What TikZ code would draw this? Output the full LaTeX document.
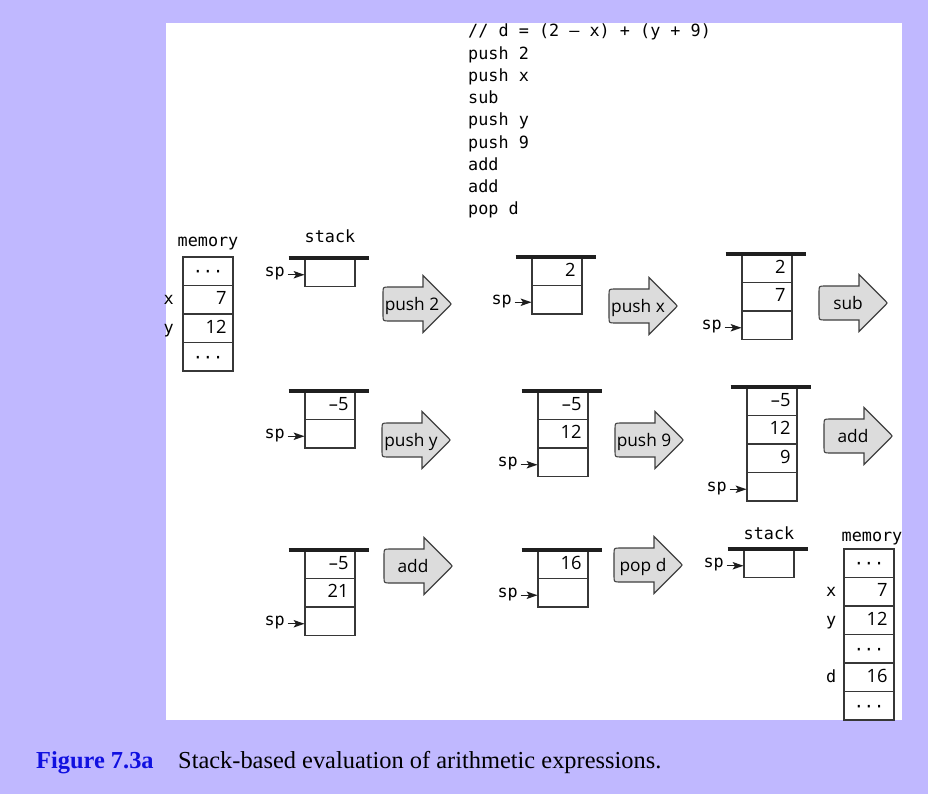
\documentclass[tikz,border=0pt]{standalone}
\usepackage{fontspec}
\usetikzlibrary{calc}
\newfontfamily\monof{DejaVu Sans Mono}
\newfontfamily\opensf{Open Sans}
\newfontfamily\capf{Liberation Serif}
\definecolor{bgc}{RGB}{192,184,255}
\definecolor{linec}{RGB}{55,55,55}
\definecolor{arrfill}{RGB}{220,220,220}
\definecolor{capblue}{RGB}{16,16,224}
\definecolor{ptrc}{RGB}{30,30,30}
\tikzset{
 cell/.style={draw=linec, line width=1.1pt, minimum width=50pt, minimum height=28.5pt,
   outer sep=0pt, inner xsep=6.5pt, inner ysep=0pt, text width=37pt, align=right,
   text height=13.2pt, text depth=3.2pt, font=\opensf\fontsize{18.3}{20}\selectfont},
 dotcell/.style={cell, align=center, text height=13.4pt, text depth=0pt,
   font=\monof\fontsize{16.8}{20}\selectfont},
 mono/.style={font=\monof\fontsize{16.8}{20}\selectfont, inner sep=0pt},
 splab/.style={mono, inner sep=1pt},
 ptrline/.style={draw=ptrc, line width=1.1pt},
 ptrhead/.style={fill=ptrc},
 bar/.style={line width=3.5pt, draw=black!88},
 oparrow/.style={draw=black!75, line width=1.1pt, fill=arrfill, line join=miter},
 oplab/.style={font=\opensf\fontsize{17.3}{20}\selectfont, inner sep=0pt},
 caption/.style={anchor=base west, inner sep=0pt},
}
\newcommand{\spto}[2]{%
  \node[splab, anchor=mid east] (#1) at ($(#2.west)+(-19,2.5)$) {sp};
  \coordinate (#1t) at ($(#1.mid east -| #2.west)+(-0.5,0)$);
  \draw[ptrline] ($(#1.mid east)+(1.5,0)$) -- ($(#1t)+(-6,0)$);
  \fill[ptrhead] (#1t) -- ($(#1t)+(-11,-3.8)$) -- ($(#1t)+(-8.5,0)$) -- ($(#1t)+(-11,3.8)$) -- cycle;}
\newcommand{\stackbar}[1]{%
  \draw[bar] ($(#1.north west)+(-16.5,0)$) -- ($(#1.north east)+(13.5,0)$);}
\newcommand{\oparr}[4]{%
  \draw[oparrow] ({#2+40},{#3-17}) -- ({#2+40},{#3-28.5}) -- ({#2+66.6},{#3-1.9})
    .. controls ({#2+68.5},{#3}) .. ({#2+66.6},{#3+1.9}) -- ({#2+40},{#3+28.5})
    -- ({#2+40},{#3+17}) -- ({#2+6},{#3+17}) .. controls ({#2},{#3+17}) .. ({#2},{#3+11})
    -- ({#2},{#3-11}) .. controls ({#2},{#3-17}) .. ({#2+6},{#3-17}) -- cycle;
  \node[oplab, anchor=base] (#1) at ({#2+29},{#3+6}) {#4};}
\begin{document}
\begin{tikzpicture}[x=1pt,y=-1pt]
\fill[bgc] (0,0) rectangle (928,794);
\useasboundingbox (0,0) rectangle (928,794);
\fill[white] (166,23) rectangle (902,720);

% code
\foreach \t [count=\i] in {{// d = (2 – x) + (y + 9)},{push 2},{push x},{sub},{push y},{push 9},{add},{add},{pop d}}
  \node[mono, anchor=base west] (code\i) at (468,{37+(\i-1)*22.25}) {\t};

% memory (initial)
\node[mono, anchor=base] (meml1) at (208,246.5) {memory};
\node[dotcell, anchor=north west] (m1a) at (183,257) {···};
\node[cell, anchor=north] (m1b) at (m1a.south) {7};
\node[cell, anchor=north] (m1c) at (m1b.south) {12};
\node[dotcell, anchor=north] (m1d) at (m1c.south) {···};
\node[mono, anchor=base east] (m1x) at ($(m1b.west)+(-9,5)$) {x};
\node[mono, anchor=base east] (m1y) at ($(m1c.west)+(-9,5)$) {y};

% row 1
\node[mono, anchor=base] (stl1) at (330,243) {stack};
\node[cell, anchor=north west] (s1a) at (305,258) {};
\stackbar{s1a}
\spto{p1}{s1a}
\oparr{a1}{383}{304}{push 2}

\node[cell, anchor=north west] (s2a) at (532,257) {2};
\node[cell, anchor=north] (s2b) at (s2a.south) {};
\stackbar{s2a}
\spto{p2}{s2b}
\oparr{a2}{609}{306}{push x}

\node[cell, anchor=north west] (s3a) at (742,254) {2};
\node[cell, anchor=north] (s3b) at (s3a.south) {7};
\node[cell, anchor=north] (s3c) at (s3b.south) {};
\stackbar{s3a}
\spto{p3}{s3c}
\oparr{a3}{819}{303}{sub}

% row 2
\node[cell, anchor=north west] (s4a) at (305,391) {–5};
\node[cell, anchor=north] (s4b) at (s4a.south) {};
\stackbar{s4a}
\spto{p4}{s4b}
\oparr{a4}{382}{440}{push y}

\node[cell, anchor=north west] (s5a) at (538,391) {–5};
\node[cell, anchor=north] (s5b) at (s5a.south) {12};
\node[cell, anchor=north] (s5c) at (s5b.south) {};
\stackbar{s5a}
\spto{p5}{s5c}
\oparr{a5}{615}{440}{push 9}

\node[cell, anchor=north west] (s6a) at (747,387) {–5};
\node[cell, anchor=north] (s6b) at (s6a.south) {12};
\node[cell, anchor=north] (s6c) at (s6b.south) {9};
\node[cell, anchor=north] (s6d) at (s6c.south) {};
\stackbar{s6a}
\spto{p6}{s6d}
\oparr{a6}{824}{436}{add}

% row 3
\node[cell, anchor=north west] (s7a) at (305,550) {–5};
\node[cell, anchor=north] (s7b) at (s7a.south) {21};
\node[cell, anchor=north] (s7c) at (s7b.south) {};
\stackbar{s7a}
\spto{p7}{s7c}
\oparr{a7}{384}{566}{add}

\node[cell, anchor=north west] (s8a) at (538,550) {16};
\node[cell, anchor=north] (s8b) at (s8a.south) {};
\stackbar{s8a}
\spto{p8}{s8b}
\oparr{a8}{614}{565}{pop d}

\node[mono, anchor=base] (stl2) at (769,539) {stack};
\node[cell, anchor=north west] (s9a) at (744,549) {};
\stackbar{s9a}
\spto{p9}{s9a}

% memory (final)
\node[mono, anchor=base] (meml2) at (872,541) {memory};
\node[dotcell, anchor=north west] (m2a) at (844,549) {···};
\node[cell, anchor=north] (m2b) at (m2a.south) {7};
\node[cell, anchor=north] (m2c) at (m2b.south) {12};
\node[dotcell, anchor=north] (m2d) at (m2c.south) {···};
\node[cell, anchor=north] (m2e) at (m2d.south) {16};
\node[dotcell, anchor=north] (m2f) at (m2e.south) {···};
\node[mono, anchor=base east] (m2x) at ($(m2b.west)+(-7.5,5)$) {x};
\node[mono, anchor=base east] (m2y) at ($(m2c.west)+(-7.5,5)$) {y};
\node[mono, anchor=base east] (m2dl) at ($(m2e.west)+(-7.5,5)$) {d};

% caption
\node[caption, font=\capf\bfseries\fontsize{24.4}{28}\selectfont, text=capblue] (figlab) at (36,768) {Figure 7.3a};
\node[caption, font=\capf\fontsize{24.4}{28}\selectfont] (captxt) at (178,768) {Stack-based evaluation of arithmetic expressions.};
\end{tikzpicture}
\end{document}
